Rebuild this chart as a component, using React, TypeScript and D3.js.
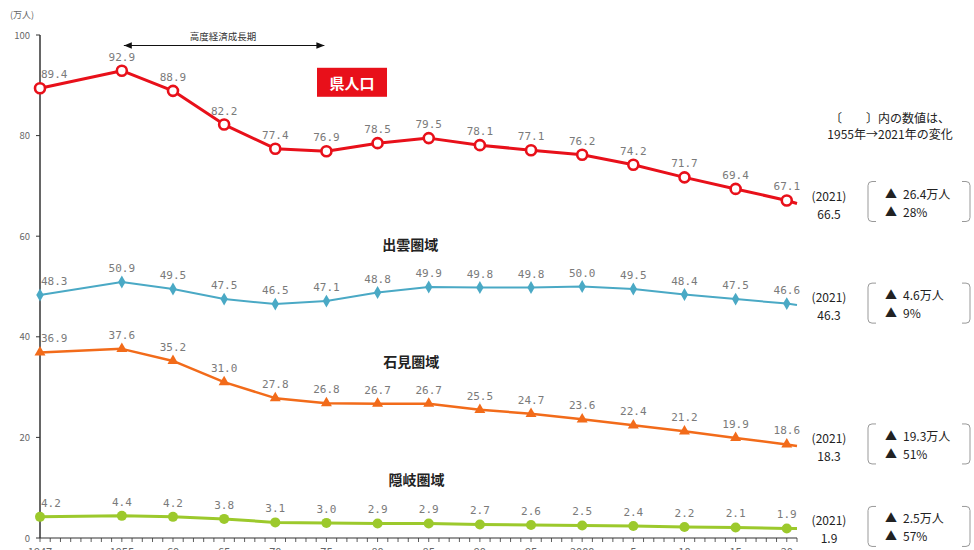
import * as d3 from 'd3'

const YEARS = [1947, 1955, 1960, 1965, 1970, 1975, 1980, 1985, 1990, 1995, 2000, 2005, 2010, 2015, 2020]
const YEAR_LABELS = ['1947', '1955', '60', '65', '70', '75', '80', '85', '90', '95', '2000', '5', '10', '15', '20']
const Y_TICKS = [0, 20, 40, 60, 80, 100]

const PREF = [89.4, 92.9, 88.9, 82.2, 77.4, 76.9, 78.5, 79.5, 78.1, 77.1, 76.2, 74.2, 71.7, 69.4, 67.1]
const IZUMO = [48.3, 50.9, 49.5, 47.5, 46.5, 47.1, 48.8, 49.9, 49.8, 49.8, 50.0, 49.5, 48.4, 47.5, 46.6]
const IWAMI = [36.9, 37.6, 35.2, 31.0, 27.8, 26.8, 26.7, 26.7, 25.5, 24.7, 23.6, 22.4, 21.2, 19.9, 18.6]
const OKI = [4.2, 4.4, 4.2, 3.8, 3.1, 3.0, 2.9, 2.9, 2.7, 2.6, 2.5, 2.4, 2.2, 2.1, 1.9]

// 2021 value and the 1955 -> 2021 change
const LATEST = [66.5, 46.3, 18.3, 1.9]
const CHANGE_NUM = ['26.4', '4.6', '19.3', '2.5']
const CHANGE_PCT = ['28', '9', '51', '57']

const SERIES = [
  { name: '県人口', values: PREF, color: '#e8101a', marker: 'open', width: 3 },
  { name: '出雲圏域', values: IZUMO, color: '#4aa9c5', marker: 'diamond', width: 2 },
  { name: '石見圏域', values: IWAMI, color: '#f26b1a', marker: 'triangle', width: 2.5 },
  { name: '隠岐圏域', values: OKI, color: '#9cc92c', marker: 'dot', width: 3 },
]

// where the series name sits (x in year units, y in value units)
const NAME_POS = [
  [1977.5, 90.5],
  [1983.2, 58.3],
  [1983.3, 35.0],
  [1983.8, 11.6],
]

const W = 974
const H = 550
const FONT = '"Noto Sans CJK JP", "Noto Sans", sans-serif'
const MONO = '"DejaVu Sans Mono", monospace'

export default function App() {
  const x = d3.scaleLinear().domain([1947, 2021]).range([40, 797])
  const y = d3.scaleLinear().domain([0, 100]).range([538, 35])
  const minor = d3.range(1947, 2022)

  const line = d3.line<[number, number]>()
    .x((d) => x(d[0]))
    .y((d) => y(d[1]))

  const diamond = d3.symbol(d3.symbolDiamond, 48)()
  const triangle = d3.symbol(d3.symbolTriangle, 52)()

  return (
    <svg width={W} height={H} style={{ position: 'absolute', left: 0, top: 0, background: '#fff' }}>
      {/* y axis */}
      <line x1={x(1947)} x2={x(1947)} y1={y(100)} y2={y(0)} stroke="#333" strokeWidth={1.5} />
      {Y_TICKS.map((t) => (
        <g key={t}>
          <line x1={x(1947) - 4} x2={x(1947)} y1={y(t)} y2={y(t)} stroke="#333" />
          <text x={x(1947) - 10} y={y(t) + 3.5} textAnchor="end" fontSize={9.5} fill="#666" fontFamily={FONT}>{t}</text>
        </g>
      ))}
      <text x={10} y={18} fontSize={9} fill="#666" fontFamily={FONT}>(万人)</text>

      {/* x axis */}
      <line x1={x(1947)} x2={x(2021)} y1={y(0)} y2={y(0)} stroke="#333" strokeWidth={1.2} />
      {minor.map((yr) => (
        <line key={yr} x1={x(yr)} x2={x(yr)} y1={y(0)} y2={y(0) + 4} stroke="#333" strokeWidth={0.8} />
      ))}
      {YEARS.map((yr, i) => (
        <text key={yr} x={x(yr)} y={556} textAnchor="middle" fontSize={11} fill="#666" fontFamily={FONT}>{YEAR_LABELS[i]}</text>
      ))}

      {/* high growth period arrow */}
      <defs>
        <marker id="ah" viewBox="0 0 10 10" refX="10" refY="5" markerWidth="8" markerHeight="8" orient="auto-start-reverse">
          <path d="M0,1 L10,5 L0,9 z" fill="#111" />
        </marker>
      </defs>
      <line x1={x(1955) + 2} x2={x(1974.8)} y1={45.5} y2={45.5} stroke="#111" strokeWidth={1}
        markerStart="url(#ah)" markerEnd="url(#ah)" />
      <text x={(x(1955) + x(1974.8)) / 2} y={40} textAnchor="middle" fontSize={9.5} fill="#333" fontFamily={FONT}>高度経済成長期</text>

      {/* note */}
      <text x={890} y={123} textAnchor="middle" fontSize={12} fill="#222" fontFamily={FONT}>〔　　〕内の数値は、</text>
      <text x={890} y={139} textAnchor="middle" fontSize={12} fill="#222" fontFamily={FONT}>1955年→2021年の変化</text>

      {SERIES.map((s, si) => {
        const pts: [number, number][] = YEARS.map((yr, i) => [yr, s.values[i]])
        const full: [number, number][] = [...pts, [2021, LATEST[si]]]
        const yl = y(LATEST[si])
        const by = yl - 2
        const [nx, ny] = NAME_POS[si]
        return (
          <g key={s.name}>
            <path d={line(full) ?? ''} fill="none" stroke={s.color} strokeWidth={s.width} strokeLinejoin="round" />
            {pts.map(([yr, v], i) => {
              const cx = x(yr)
              const cy = y(v)
              return (
                <g key={yr}>
                  {s.marker === 'open' && <circle cx={cx} cy={cy} r={5} fill="#fff" stroke={s.color} strokeWidth={2.6} />}
                  {s.marker === 'dot' && <circle cx={cx} cy={cy} r={5} fill={s.color} />}
                  {s.marker === 'diamond' && <path d={diamond ?? ''} transform={`translate(${cx},${cy})`} fill={s.color} />}
                  {s.marker === 'triangle' && <path d={triangle ?? ''} transform={`translate(${cx},${cy})`} fill={s.color} />}
                  <text x={i === 0 ? cx + 1 : cx} y={cy - 10} textAnchor={i === 0 ? 'start' : 'middle'}
                    fontSize={11} fill="#7a7a7a" fontFamily={MONO}>{v.toFixed(1)}</text>
                </g>
              )
            })}

            {/* series name */}
            {si === 0 ? (
              <g>
                <rect x={x(nx) - 35} y={y(ny) - 15} width={70} height={29} fill="#e8101a" />
                <text x={x(nx)} y={y(ny) + 6} textAnchor="middle" fontSize={15} fontWeight="bold" fill="#fff" fontFamily={FONT}>{s.name}</text>
              </g>
            ) : (
              <text x={x(nx)} y={y(ny) + 5} textAnchor="middle" fontSize={14} fontWeight={600} fill="#222" fontFamily={FONT}>{s.name}</text>
            )}

            {/* 2021 value */}
            <text x={829} y={yl - 3} textAnchor="middle" fontSize={12} fill="#222" fontFamily={FONT}>(2021)</text>
            <text x={829} y={yl + 15} textAnchor="middle" fontSize={12} fill="#222" fontFamily={FONT}>{LATEST[si].toFixed(1)}</text>

            {/* change bracket */}
            <path d={`M876,${by - 20} H872 Q868,${by - 20} 868,${by - 16} V${by + 16} Q868,${by + 20} 872,${by + 20} H876`}
              fill="none" stroke="#999" strokeWidth={1} />
            <path d={`M962,${by - 20} H966 Q970,${by - 20} 970,${by - 16} V${by + 16} Q970,${by + 20} 966,${by + 20} H962`}
              fill="none" stroke="#999" strokeWidth={1} />
            <text x={885} y={by - 3} fontSize={12} fill="#222" fontFamily={FONT}>
              ▲<tspan dx={6}>{CHANGE_NUM[si]}万人</tspan>
            </text>
            <text x={885} y={by + 15} fontSize={12} fill="#222" fontFamily={FONT}>
              ▲<tspan dx={6}>{CHANGE_PCT[si]}%</tspan>
            </text>
          </g>
        )
      })}
    </svg>
  )
}
